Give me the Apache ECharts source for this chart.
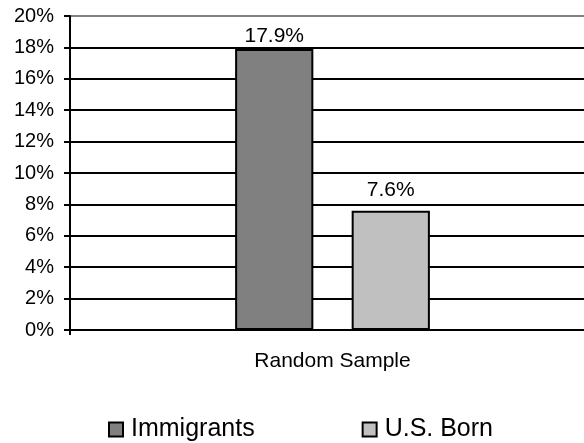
<!DOCTYPE html>
<html>
<head>
<meta charset="utf-8">
<script src="https://cdn.jsdelivr.net/npm/echarts@6/dist/echarts.min.js"></script>
<style>
  html, body { margin: 0; padding: 0; background: #fff; }
  #echart { width: 584px; height: 443px; }
</style>
</head>
<body>
<div id="echart"></div>
<script>
// data
var categories = ["Random Sample"];
var seriesNames = ["Immigrants", "U.S. Born"];
var immigrants = [17.9];
var usBorn = [7.6];
var yTicks = [0, 2, 4, 6, 8, 10, 12, 14, 16, 18, 20];

var font = "'Liberation Sans', Arial, sans-serif";

// gridlines black, top border gray
var lineColors = yTicks.map(function (v, i) {
  return i === yTicks.length - 1 ? "#808080" : "#000";
});

var myChart = echarts.init(document.getElementById("echart"));
var option = {
  animation: false,
  backgroundColor: "#fff",
  textStyle: { fontFamily: font, color: "#000" },
  grid: {
    left: 70, width: 525, top: 16, bottom: 113,
    containLabel: false, outerBoundsMode: "none"
  },
  legend: {
    data: seriesNames,
    icon: "rect",
    left: 103,
    top: 412,
    itemWidth: 14,
    itemHeight: 14,
    itemGap: 107,
    textStyle: { fontFamily: font, fontSize: 25, color: "#000", padding: [0, 0, 0, 3] },
    itemStyle: { borderColor: "#000", borderWidth: 2 }
  },
  xAxis: {
    type: "category",
    data: categories,
    axisLine: { lineStyle: { color: "#000", width: 2 } },
    axisTick: { show: true, length: 5, lineStyle: { color: "#000", width: 2 } },
    axisLabel: { fontFamily: font, fontSize: 21, color: "#000", margin: 21 }
  },
  yAxis: {
    type: "value",
    min: 0,
    max: 20,
    interval: 2,
    axisLine: { show: true, lineStyle: { color: "#000", width: 2 } },
    axisTick: { show: true, length: 6, lineStyle: { color: "#000", width: 2 } },
    axisLabel: {
      fontFamily: font, fontSize: 20, color: "#000", margin: 16,
      formatter: function (v) { return v + "%"; }
    },
    splitLine: { show: true, lineStyle: { color: lineColors, width: 2 } }
  },
  series: [
    {
      name: seriesNames[0],
      type: "bar",
      data: immigrants,
      barWidth: "14.9%",
      barGap: "49%",
      itemStyle: { color: "#808080", borderColor: "#000", borderWidth: 2 },
      label: {
        show: true, position: "top", distance: 2,
        fontFamily: font, fontSize: 21, color: "#000",
        formatter: function (p) { return p.value.toFixed(1) + "%"; }
      }
    },
    {
      name: seriesNames[1],
      type: "bar",
      data: usBorn,
      barWidth: "14.9%",
      itemStyle: { color: "#c0c0c0", borderColor: "#000", borderWidth: 2 },
      label: {
        show: true, position: "top", distance: 10,
        fontFamily: font, fontSize: 21, color: "#000",
        formatter: function (p) { return p.value.toFixed(1) + "%"; }
      }
    }
  ]
};
myChart.setOption(option);
</script>
</body>
</html>
